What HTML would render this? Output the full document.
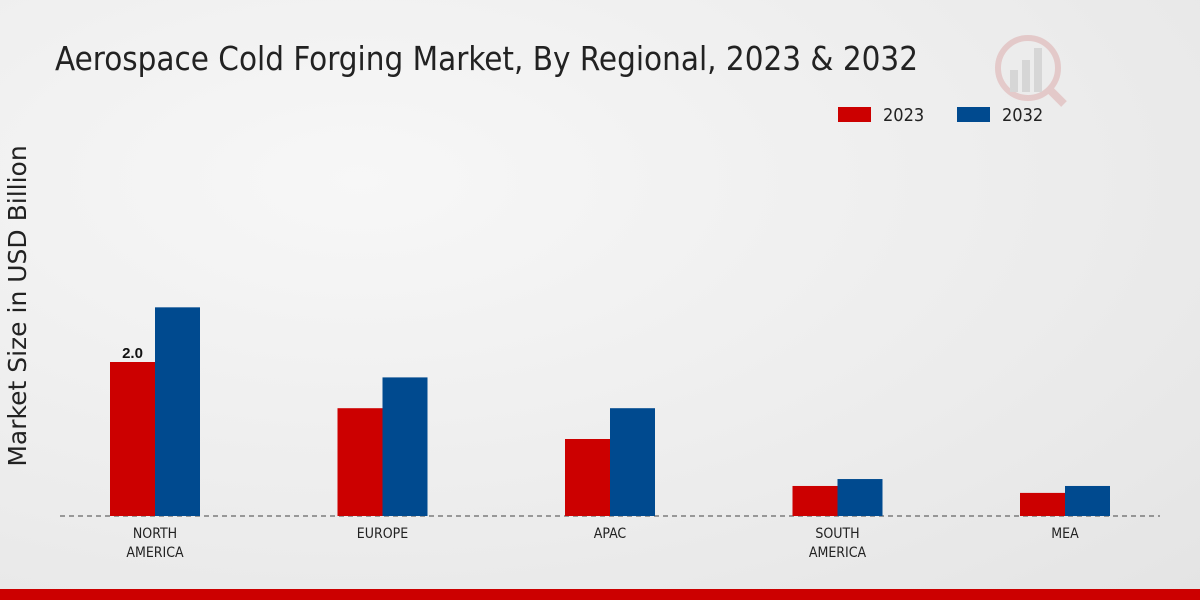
<!DOCTYPE html>
<html><head><meta charset="utf-8"><style>
body{margin:0;width:1200px;height:600px;overflow:hidden;font-family:"Liberation Sans","DejaVu Sans",sans-serif;}
#bg{position:absolute;left:0;top:0;width:1200px;height:600px;background:radial-gradient(ellipse at 30% 30%,#f7f7f7 0%,#ececec 60%,#e4e4e4 100%);}
</style></head><body>
<div id="bg"></div>
<svg id="chart" width="1200" height="600" style="position:absolute;left:0;top:0">
<text x="55" y="70" font-size="33" fill="#222" font-family="DejaVu Sans Condensed, DejaVu Sans, sans-serif" textLength="863" lengthAdjust="spacingAndGlyphs">Aerospace Cold Forging Market, By Regional, 2023 &amp; 2032</text>
<g>
<rect x="838" y="107" width="33" height="15" fill="#cc0000"/>
<text x="883" y="121" font-size="18" fill="#222" font-family="DejaVu Sans Condensed, DejaVu Sans, sans-serif">2023</text>
<rect x="957" y="107" width="33" height="15" fill="#004a8f"/>
<text x="1002" y="121" font-size="18" fill="#222" font-family="DejaVu Sans Condensed, DejaVu Sans, sans-serif">2032</text>
</g>
<text transform="translate(26,306) rotate(-90)" text-anchor="middle" font-size="25" fill="#222" font-family="DejaVu Sans, sans-serif">Market Size in USD Billion</text>
<line x1="60" y1="516" x2="1160" y2="516" stroke="#444" stroke-dasharray="5,4"/>
<g id="bars"></g>
<g opacity="0.25">
<circle cx="1028" cy="68" r="30" fill="none" stroke="#cc6666" stroke-width="6"/>
<rect x="1010" y="70" width="8" height="22" fill="#999"/><rect x="1022" y="60" width="8" height="32" fill="#999"/><rect x="1034" y="48" width="8" height="44" fill="#999"/>
<line x1="1050" y1="90" x2="1064" y2="104" stroke="#cc6666" stroke-width="8"/>
</g>
</svg>
<div style="position:absolute;left:0;top:589px;width:1200px;height:11px;background:#cc0000"></div>
<script>
const categories=[["NORTH","AMERICA"],["EUROPE"],["APAC"],["SOUTH","AMERICA"],["MEA"]];
const values2023=[2.0,1.4,1.0,0.39,0.3];
const values2032=[2.71,1.8,1.4,0.48,0.39];
const labels2023=["2.0","","","",""];
const ns="http://www.w3.org/2000/svg";
const g=document.getElementById('bars');
const y0=516,scale=77,bw=45;
const xc=i=>155+i*227.5;
const y=v=>y0-v*scale;
categories.forEach((c,i)=>{
  [[values2023,"#cc0000",-bw,"2023"],[values2032,"#004a8f",0,"2032"]].forEach(([arr,col,off,yr])=>{
    const r=document.createElementNS(ns,'rect');
    r.setAttribute('x',xc(i)+off);r.setAttribute('y',y(arr[i]));
    r.setAttribute('width',bw);r.setAttribute('height',y0-y(arr[i]));r.setAttribute('fill',col);
    
    
    g.appendChild(r);
  });
  if(labels2023[i]){
    const t=document.createElementNS(ns,'text');
    t.setAttribute('x',xc(i)-bw/2);t.setAttribute('y',y(values2023[i])-4);
    t.setAttribute('text-anchor','middle');t.setAttribute('font-size','15');t.setAttribute('font-weight','bold');t.setAttribute('fill','#111');
    t.textContent=labels2023[i];
    
    
    g.appendChild(t);
  }
  c.forEach((line,j)=>{
    const t=document.createElementNS(ns,'text');
    t.setAttribute('x',xc(i));t.setAttribute('y',538+j*19);
    t.setAttribute('text-anchor','middle');t.setAttribute('font-size','14');t.setAttribute('fill','#222');
    t.setAttribute('font-family','DejaVu Sans Condensed, DejaVu Sans, sans-serif');
    t.textContent=line;
    
    
    g.appendChild(t);
  });
});
</script>
</body></html>
